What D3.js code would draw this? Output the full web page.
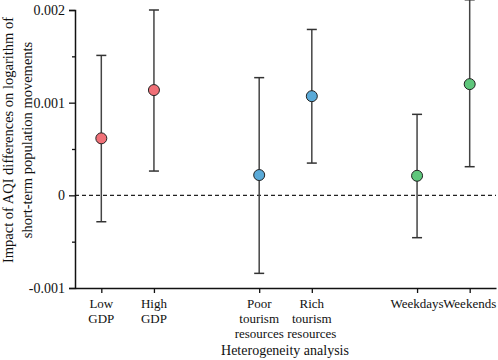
<!DOCTYPE html>
<html>
<head>
<meta charset="utf-8">
<script src="https://cdn.jsdelivr.net/npm/d3@7"></script>
<style>
  body { margin: 0; background: #fff; }
  text { font-family: "Liberation Serif", "Times New Roman", serif; fill: #111; }
</style>
</head>
<body>
<div id="chart"></div>
<script>
// chart data
const groups = [['Low', 'GDP'], ['High', 'GDP'], ['Poor', 'tourism', 'resources'], ['Rich', 'tourism', 'resources'], ['Weekdays'], ['Weekends']];
const positions = [0.5, 1.5, 3.5, 4.5, 6.5, 7.5];
const estimates = [0.000615, 0.001136, 0.000219, 0.00107, 0.000211, 0.0012];
const lower = [-0.000285, 0.000262, -0.000842, 0.000348, -0.000457, 0.000309];
const upper = [0.00151, 0.002, 0.00127, 0.00179, 0.000874, 0.00211];
const colors = ['#f07077', '#f07077', '#5aaad8', '#5aaad8', '#5ec67b', '#5ec67b'];
const yTicks = [-0.001, 0, 0.001, 0.002];
const yTickLabels = ['-0.001', '0', '0.001', '0.002'];
const yMinorTicks = [-0.0005, 0.0005, 0.0015];

const serif = '"Liberation Serif", "Times New Roman", serif';
const margin = { top: 10, right: 2, bottom: 72, left: 75 };
const width = 498 - margin.left - margin.right;
const height = 360 - margin.top - margin.bottom;

const x = d3.scaleLinear().domain([0, 8]).range([0, width]);
const y = d3.scaleLinear().domain([-0.001, 0.002]).range([height, 0]);

const svg = d3.select('#chart').append('svg')
  .attr('width', 498)
  .attr('height', 360)
  .append('g')
  .attr('transform', `translate(${margin.left}, ${margin.top})`);

// zero reference line
svg.append('line')
  .attr('x1', 0).attr('x2', width)
  .attr('y1', y(0)).attr('y2', y(0))
  .attr('stroke', '#222')
  .attr('stroke-width', 1.2)
  .attr('stroke-dasharray', '4,3');

// y axis
const yAxis = svg.append('g')
  .call(d3.axisLeft(y).tickValues(yTicks).tickFormat((d, i) => yTickLabels[i]).tickSize(6).tickPadding(4));
svg.append('g')
  .call(d3.axisLeft(y).tickValues(yMinorTicks).tickFormat('').tickSize(3))
  .select('.domain').remove();

// x axis
const xAxis = svg.append('g')
  .attr('transform', `translate(0, ${height})`)
  .call(d3.axisBottom(x).tickValues(positions).tickFormat('').tickSize(5).tickSizeOuter(0));

svg.selectAll('.domain').attr('stroke', '#111').attr('stroke-width', 1.5);
svg.selectAll('.tick line').attr('stroke', '#111').attr('stroke-width', 1.3);
yAxis.attr('font-family', serif).attr('font-size', 14);
yAxis.selectAll('text')
  .style('font-family', serif)
  .style('font-size', '14px')
  .attr('fill', '#111');

// multi-line category labels
groups.forEach((lines, i) => {
  const t = svg.append('text')
    .attr('x', x(positions[i]))
    .attr('y', height + 20)
    .attr('text-anchor', 'middle')
    .style('font-family', serif)
    .style('font-size', '13px');
  lines.forEach((l, j) => {
    t.append('tspan')
      .attr('x', x(positions[i]))
      .attr('dy', j === 0 ? 0 : 15)
      .text(l);
  });
});

// error bars
const bars = svg.selectAll('.err')
  .data(estimates)
  .enter().append('g')
  .attr('class', 'err');

bars.append('line')
  .attr('x1', (d, i) => x(positions[i])).attr('x2', (d, i) => x(positions[i]))
  .attr('y1', (d, i) => y(lower[i])).attr('y2', (d, i) => y(upper[i]))
  .attr('stroke', '#444').attr('stroke-width', 1.5);

bars.append('line')
  .attr('x1', (d, i) => x(positions[i]) - 5).attr('x2', (d, i) => x(positions[i]) + 5)
  .attr('y1', (d, i) => y(upper[i])).attr('y2', (d, i) => y(upper[i]))
  .attr('stroke', '#333').attr('stroke-width', 1.5);

bars.append('line')
  .attr('x1', (d, i) => x(positions[i]) - 5).attr('x2', (d, i) => x(positions[i]) + 5)
  .attr('y1', (d, i) => y(lower[i])).attr('y2', (d, i) => y(lower[i]))
  .attr('stroke', '#333').attr('stroke-width', 1.5);

bars.append('circle')
  .attr('cx', (d, i) => x(positions[i]))
  .attr('cy', d => y(d))
  .attr('r', 5.5)
  .attr('fill', (d, i) => colors[i])
  .attr('stroke', '#222')
  .attr('stroke-width', 1);

// axis titles
const yTitle = svg.append('text')
  .attr('transform', `translate(${-margin.left + 13}, ${height / 2 - 9}) rotate(-90)`)
  .attr('text-anchor', 'middle')
  .style('font-family', serif)
  .style('font-size', '14.5px');
yTitle.append('tspan').attr('x', 0).attr('dy', 0).text('Impact of AQI differences on logarithm of');
yTitle.append('tspan').attr('x', 0).attr('dy', 19).text('short-term population movements');

svg.append('text')
  .attr('x', 210)
  .attr('y', height + 67)
  .attr('text-anchor', 'middle')
  .style('font-family', serif)
  .style('font-size', '14px')
  .text('Heterogeneity analysis');
</script>
</body>
</html>
